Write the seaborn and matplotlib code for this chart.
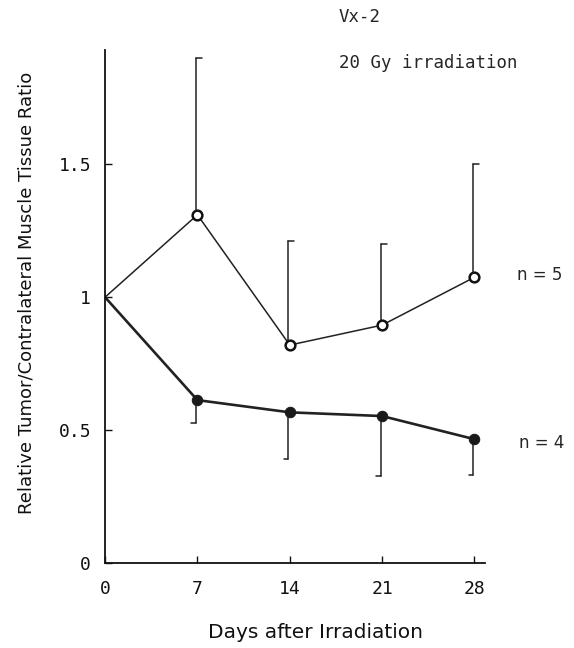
import numpy as np
import pandas as pd
import matplotlib
matplotlib.use("Agg")
import matplotlib.pyplot as plt
import seaborn as sns

# days after irradiation
days = [0, 7, 14, 21, 28]
# n = 5 group (open circles), upper error bars
open_vals = [1.0, 1.31, 0.82, 0.895, 1.075]
open_err_up = [0.0, 0.59, 0.39, 0.305, 0.425]
# n = 4 group (filled circles), lower error bars
filled_vals = [1.0, 0.613, 0.567, 0.553, 0.466]
filled_err_down = [0.0, 0.087, 0.177, 0.226, 0.136]

sns.set_style("ticks")
plt.rcParams["font.family"] = ["DejaVu Sans"]

fig = plt.figure(figsize=(5.74, 6.48), dpi=100)
ax = fig.add_axes([0.183, 0.131, 0.662, 0.792])

df = pd.DataFrame({
    "day": days * 2,
    "ratio": open_vals + filled_vals,
    "group": ["n5"] * 5 + ["n4"] * 5,
})

# no marker at day 0, lines just meet at the axis
sns.lineplot(data=df[df.group == "n5"], x="day", y="ratio", ax=ax, color="#222222",
             lw=1.1, marker="o", markersize=7, markerfacecolor="white",
             markeredgecolor="#111111", markeredgewidth=1.8, markevery=[1, 2, 3, 4])
sns.lineplot(data=df[df.group == "n4"], x="day", y="ratio", ax=ax, color="#222222",
             lw=1.9, marker="o", markersize=7.5, markerfacecolor="#1a1a1a",
             markeredgecolor="#1a1a1a", markevery=[1, 2, 3, 4])

# one-sided error bars
for d, v, e in zip(days[1:], open_vals[1:], open_err_up[1:]):
    ax.plot([d - 0.1, d - 0.1], [v, v + e], color="#222222", lw=1.1, zorder=1)
    ax.plot([d - 0.1, d + 0.35], [v + e, v + e], color="#222222", lw=1.1, zorder=1)
for d, v, e in zip(days[1:], filled_vals[1:], filled_err_down[1:]):
    ax.plot([d - 0.1, d - 0.1], [v, v - e], color="#222222", lw=1.1, zorder=1)
    ax.plot([d - 0.1, d - 0.45], [v - e, v - e], color="#222222", lw=1.1, zorder=1)

ax.set_xlim(0, 28.8)
ax.set_ylim(0, 1.93)
ax.set_xticks(days)
ax.set_xticklabels(["0", "7", "14", "21", "28"], family="DejaVu Sans Mono", fontsize=13)
ax.set_yticks([0, 0.5, 1, 1.5])
ax.set_yticklabels(["0", "0.5", "1", "1.5"], family="DejaVu Sans Mono", fontsize=13)
ax.tick_params(direction="in", length=5, width=1, colors="#111111")
ax.tick_params(axis="y", pad=10)
ax.tick_params(axis="x", pad=12)
sns.despine(ax=ax)
for s in ["left", "bottom"]:
    ax.spines[s].set_linewidth(1.3)
    ax.spines[s].set_color("#111111")

ax.set_xlabel("Days after Irradiation", fontsize=14.5, color="#111111", va="center")
ax.xaxis.set_label_coords(0.555, -0.136)
ax.set_ylabel("Relative Tumor/Contralateral Muscle Tissue Ratio", fontsize=13,
              color="#111111", va="center")
ax.yaxis.set_label_coords(-0.208, 0.526)

fig.text(0.590, 0.974, "Vx-2", fontsize=12.5, family="DejaVu Sans Mono", va="center")
fig.text(0.590, 0.903, "20 Gy irradiation", fontsize=12.5, family="DejaVu Sans Mono",
         va="center")
fig.text(0.901, 0.576, "n = 5", fontsize=12, va="center")
fig.text(0.904, 0.316, "n = 4", fontsize=12, va="center")

fig.savefig("out.png", dpi=100)
